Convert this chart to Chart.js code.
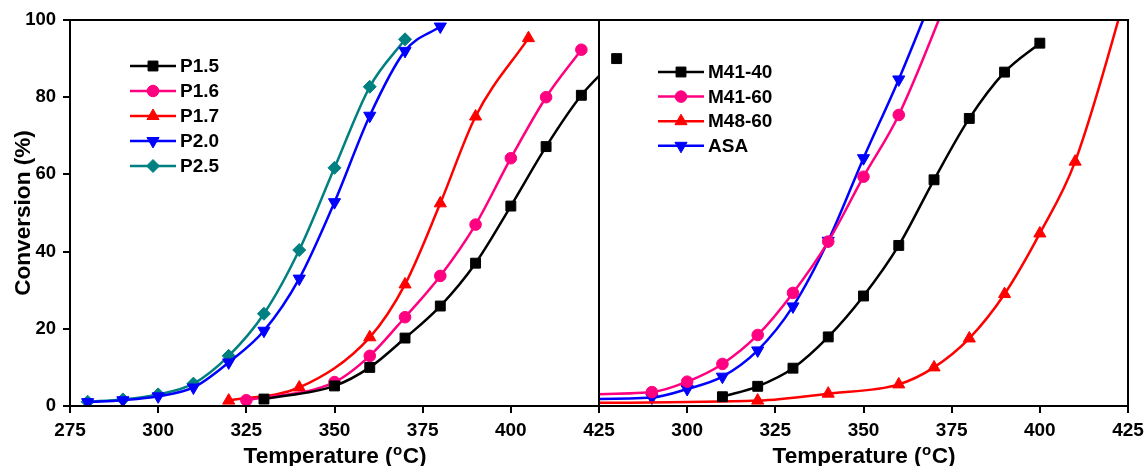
<!DOCTYPE html>
<html><head><meta charset="utf-8">
<script src="https://cdn.jsdelivr.net/npm/chart.js@4/dist/chart.umd.min.js"></script>
<style>
html,body{margin:0;padding:0;background:#fff;}
#wrap{position:relative;width:1146px;height:466px;}
canvas{position:absolute;left:0;top:0;}
</style></head><body>
<div id="wrap"><canvas id="c1" width="1146" height="466"></canvas><canvas id="c2" width="1146" height="466"></canvas></div>
<script>
// ---- data ----
const xTicks = [275, 300, 325, 350, 375, 400, 425];
const yTicks = [0, 20, 40, 60, 80, 100];
const xTitle = ['Temperature (', 'o', 'C)'];
const yTitle = 'Conversion (%)';

// left panel
const p15T = [330, 350, 360, 370, 380, 390, 400, 410, 420, 430];
const p15V = [1.8, 5.2, 10, 17.6, 25.9, 37, 51.8, 67.2, 80.5, 90];
const p16T = [325, 350, 360, 370, 380, 390, 400, 410, 420];
const p16V = [1.5, 6.2, 13, 23, 33.7, 47, 64.2, 80, 92.3];
const p17T = [320, 340, 360, 370, 380, 390, 405];
const p17V = [1.4, 4.8, 17.8, 31.5, 52.5, 75, 95.3];
const p20T = [280, 290, 300, 310, 320, 330, 340, 350, 360, 370, 380];
const p20V = [1, 1.5, 2.5, 4.8, 11.3, 19.5, 33, 52.8, 75.2, 92, 98.3];
const p25T = [280, 290, 300, 310, 320, 330, 340, 350, 360, 370];
const p25V = [1.1, 1.7, 3, 5.8, 13, 23.9, 40.4, 61.7, 82.7, 95];

// right panel
const m4140T = [310, 320, 330, 340, 350, 360, 370, 380, 390, 400];
const m4140V = [2.4, 5.1, 9.8, 17.9, 28.5, 41.6, 58.6, 74.5, 86.5, 94];
const m4160T = [270, 290, 300, 310, 320, 330, 340, 350, 360, 380];
const m4160V = [3, 3.6, 6.3, 10.9, 18.4, 29.3, 42.6, 59.4, 75.4, 120];
const m4860T = [270, 320, 340, 360, 370, 380, 390, 400, 410, 430];
const m4860V = [0.8, 1.4, 3.2, 5.6, 10, 17.5, 29, 44.7, 63.3, 125];
const asaT = [270, 290, 300, 310, 320, 330, 340, 350, 360, 370];
const asaV = [1.8, 2.2, 4.4, 7.6, 14.4, 25.8, 42.8, 64.2, 84.6, 107];

const X_MIN = 275, X_MAX = 425, Y_MIN = 0, Y_MAX = 100;
const FONT = '"Liberation Sans", Arial, sans-serif';
const BLACK = '#000000', PINK = '#FF0080', RED = '#FF0000', BLUE = '#0000FF', TEAL = '#008080';

function mk(T, V) { return T.map((t, i) => ({ x: t, y: V[i] })); }
function series(label, T, V, color, style, radius, rot) {
  return {
    label, data: mk(T, V), borderColor: color, backgroundColor: color,
    pointBackgroundColor: color, pointBorderColor: color, pointStyle: style,
    pointRadius: radius, pointHoverRadius: radius, pointRotation: rot || 0,
    pointBorderWidth: 1, borderWidth: 2.5, cubicInterpolationMode: 'monotone'
  };
}
function marker(ctx, d, x, y) {
  ctx.fillStyle = d.borderColor; ctx.strokeStyle = d.borderColor; ctx.lineWidth = 1;
  Chart.helpers.drawPoint(ctx, { pointStyle: d.pointStyle, rotation: d.pointRotation, radius: d.pointRadius, borderWidth: 1 }, x, y);
}

const framePlugin = {
  id: 'frame',
  afterDatasetsDraw(chart, args, o) {
    const { ctx, chartArea: a } = chart;
    const xs = chart.scales.x, ys = chart.scales.y;
    ctx.save();
    // markers of points past the right axis end (the original draws them unclipped)
    chart.data.datasets.filter(d => d.markOverflow).forEach(d => {
      d.data.filter(p => p.x > X_MAX && p.y >= Y_MIN && p.y <= Y_MAX)
        .forEach(p => marker(ctx, d, xs.getPixelForValue(p.x), ys.getPixelForValue(p.y)));
    });
    // frame
    ctx.strokeStyle = '#000'; ctx.lineWidth = 2;
    ctx.strokeRect(a.left, a.top, a.right - a.left, a.bottom - a.top);
    // legend
    const L = o.legend;
    ctx.font = 'bold 19px ' + FONT; ctx.textBaseline = 'middle'; ctx.textAlign = 'left';
    chart.data.datasets.forEach((d, i) => {
      const y = L.y + i * L.step;
      ctx.strokeStyle = d.borderColor; ctx.lineWidth = 2.5;
      ctx.beginPath(); ctx.moveTo(L.x, y); ctx.lineTo(L.x + 46, y); ctx.stroke();
      marker(ctx, d, L.x + 23, y);
      ctx.fillStyle = '#000';
      ctx.fillText(d.label, L.x + 50, y + 1);
    });
    // x title with superscript
    const cx = (a.left + a.right) / 2, ty = o.titleY;
    const big = 'bold 22.6px ' + FONT, small = 'bold 15px ' + FONT;
    ctx.font = big; const w1 = ctx.measureText(xTitle[0]).width, w3 = ctx.measureText(xTitle[2]).width;
    ctx.font = small; const w2 = ctx.measureText(xTitle[1]).width;
    let x0 = cx - (w1 + w2 + w3) / 2;
    ctx.fillStyle = '#000'; ctx.textBaseline = 'alphabetic';
    ctx.font = big; ctx.fillText(xTitle[0], x0, ty);
    ctx.font = small; ctx.fillText(xTitle[1], x0 + w1 + 0.5, ty - 8);
    ctx.font = big; ctx.fillText(xTitle[2], x0 + w1 + w2 + 1, ty);
    // y title
    if (o.yTitle) {
      ctx.translate(o.yTitleX, (a.top + a.bottom) / 2); ctx.rotate(-Math.PI / 2);
      ctx.font = big; ctx.textAlign = 'center'; ctx.textBaseline = 'middle';
      ctx.fillText(yTitle, 0, 0);
    }
    ctx.restore();
  }
};

function makeOpts(cfg) {
  return {
    responsive: false, animation: false, events: [],
    layout: { padding: { left: cfg.padL, right: cfg.padR, top: 20, bottom: 0 } },
    plugins: { legend: { display: false }, tooltip: { enabled: false }, frame: cfg.frame },
    scales: {
      x: {
        type: 'linear', min: X_MIN, max: X_MAX,
        afterBuildTicks: s => { s.ticks = xTicks.map(v => ({ value: v })); },
        afterFit: s => { s.height = 60; s.paddingLeft = 0; s.paddingRight = 0; },
        border: { display: false },
        grid: { drawOnChartArea: false, drawTicks: true, tickLength: 7, color: '#000', lineWidth: 2 },
        ticks: { color: '#000', font: { family: FONT, size: 19, weight: 'bold' }, padding: 6, maxRotation: 0, autoSkip: false, callback: cfg.xcb }
      },
      y: {
        display: cfg.showY, type: 'linear', min: Y_MIN, max: Y_MAX,
        afterBuildTicks: s => { s.ticks = yTicks.map(v => ({ value: v })); },
        afterFit: s => { s.width = cfg.showY ? 70 : 0; s.paddingTop = 0; s.paddingBottom = 0; },
        border: { display: false },
        grid: { drawOnChartArea: false, drawTicks: true, tickLength: 7, color: '#000', lineWidth: 2 },
        ticks: { color: '#000', font: { family: FONT, size: 18.5, weight: 'bold' }, padding: 7 }
      }
    }
  };
}

// left chart
const p15 = series('P1.5', p15T, p15V, BLACK, 'rect', 7);
p15.markOverflow = true;
new Chart(document.getElementById('c1'), {
  type: 'line',
  data: { datasets: [
    p15,
    series('P1.6', p16T, p16V, PINK, 'circle', 5.8),
    series('P1.7', p17T, p17V, RED, 'triangle', 7),
    series('P2.0', p20T, p20V, BLUE, 'triangle', 7, 180),
    series('P2.5', p25T, p25V, TEAL, 'rectRot', 6.5)
  ] },
  options: makeOpts({ padL: 0, padR: 1146 - 599, showY: true, xcb: v => v,
    frame: { legend: { x: 130, y: 66, step: 25 }, titleY: 463, yTitle: true, yTitleX: 24 } }),
  plugins: [framePlugin]
});

// right chart
new Chart(document.getElementById('c2'), {
  type: 'line',
  data: { datasets: [
    series('M41-40', m4140T, m4140V, BLACK, 'rect', 7),
    series('M41-60', m4160T, m4160V, PINK, 'circle', 5.8),
    series('M48-60', m4860T, m4860V, RED, 'triangle', 7),
    series('ASA', asaT, asaV, BLUE, 'triangle', 7, 180)
  ] },
  options: makeOpts({ padL: 599, padR: 18, showY: false, xcb: v => (v === X_MIN ? '' : v),
    frame: { legend: { x: 658, y: 72, step: 24.6 }, titleY: 463, yTitle: false } }),
  plugins: [framePlugin]
});
</script>
</body></html>
